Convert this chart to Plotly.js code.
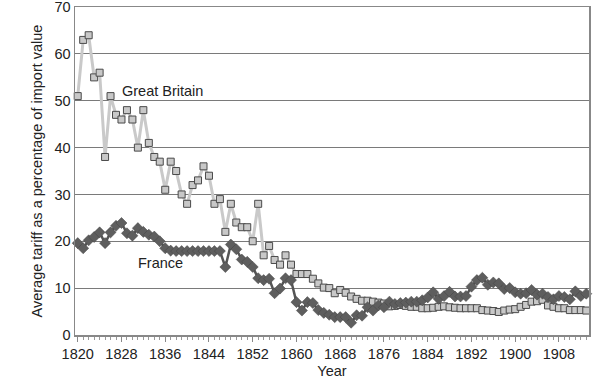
<!DOCTYPE html>
<html>
<head>
<meta charset="utf-8">
<script src="https://cdn.plot.ly/plotly-3.0.1.min.js"></script>
<style>html,body{margin:0;padding:0;background:#fff;}#chart{width:600px;height:379px;}</style>
</head>
<body>
<div id="chart"></div>
<script>
// Years 1820..1913
var years = [];
for (var y = 1820; y <= 1913; y++) years.push(y);

var britain = [
  51, 63, 64, 55, 56, 38, 51, 47, 46, 48,   // 1820-1829
  46, 40, 48, 41, 38, 37, 31, 37, 35, 30,   // 1830-1839
  28, 32, 33, 36, 34, 28, 29, 22, 28, 24,   // 1840-1849
  23, 23, 20, 28, 17, 19, 16, 15, 17, 15,   // 1850-1859
  13, 13, 13, 12, 11, 10.1, 10, 8.9, 9.6, 9,   // 1860-1869
  8.2, 7.7, 7.3, 7.3, 7.1, 6.9, 6.7, 6.1, 6.2, 6.4,   // 1870-1879
  6.2, 6, 6, 5.7, 5.7, 5.8, 6, 6.1, 5.9, 5.8,   // 1880-1889
  5.7, 5.7, 5.7, 5.7, 5.3, 5.2, 5.1, 4.9, 5.2, 5.4,   // 1890-1899
  5.5, 6, 6.4, 7.1, 7.2, 7.5, 6.3, 6, 5.7, 5.7,   // 1900-1909
  5.3, 5.3, 5.3, 5.2   // 1910-1913
];

var france = [
  19.6, 18.5, 20.2, 20.9, 21.9, 19.6, 21.9, 23.3, 23.9, 21.7,   // 1820-1829
  21.2, 22.8, 22, 21.4, 21, 20, 18.5, 18, 17.9, 17.9,   // 1830-1839
  17.9, 17.9, 17.9, 17.9, 17.9, 17.9, 17.9, 14.5, 19.3, 18.3,   // 1840-1849
  16.1, 15.6, 14.5, 12.1, 11.7, 12, 8.9, 9.9, 12.1, 11.7,   // 1850-1859
  7, 5.2, 7, 6.8, 5.3, 4.7, 4.3, 3.8, 3.8, 3.8,   // 1860-1869
  2.6, 4.2, 4.1, 5.9, 5.2, 6.3, 5.9, 7.1, 6.6, 6.8,   // 1870-1879
  6.9, 7.1, 7.1, 7.4, 8, 9.1, 7.7, 8.3, 9.2, 8.2,   // 1880-1889
  8.2, 8.3, 10.3, 11.7, 12.2, 10.7, 11.2, 11, 9.8, 10,   // 1890-1899
  9.1, 8.8, 8.9, 9.6, 8.6, 8.8, 8.1, 7.6, 8.3, 8.1,   // 1900-1909
  7.6, 9.3, 8.3, 8.8   // 1910-1913
];

var yTicks = [0, 10, 20, 30, 40, 50, 60, 70];
var xTicks = [1820, 1828, 1836, 1844, 1852, 1860, 1868, 1876, 1884, 1892, 1900, 1908];

var traces = [
  {
    x: years, y: britain, type: 'scatter', mode: 'lines+markers', name: 'Great Britain',
    line: {color: '#c9c9c9', width: 3},
    marker: {symbol: 'square', size: 7, color: '#c8c8c8', line: {color: '#4a4a4a', width: 1}},
    cliponaxis: false
  },
  {
    x: years, y: france, type: 'scatter', mode: 'lines+markers', name: 'France',
    line: {color: '#555555', width: 2.5},
    marker: {symbol: 'diamond', size: 8.5, color: '#5e5e5e', line: {color: '#444444', width: 0.5}},
    cliponaxis: false
  }
];

var fontFam = 'Liberation Sans, Arial, Helvetica, sans-serif';

var layout = {
  width: 600, height: 379,
  margin: {l: 75, r: 11, t: 7, b: 44},
  paper_bgcolor: '#ffffff', plot_bgcolor: '#ffffff',
  showlegend: false,
  font: {family: fontFam, size: 14.5, color: '#222'},
  xaxis: {
    range: [1819.5, 1913.5],
    tickmode: 'array', tickvals: xTicks, ticktext: xTicks.map(String),
    ticks: 'outside', ticklen: 5, tickcolor: '#888', tickwidth: 1,
    minor: {dtick: 1, tick0: 1820, ticks: 'outside', ticklen: 3, tickcolor: '#999', showgrid: false},
    showgrid: false, zeroline: false,
    showline: true, linecolor: '#888', linewidth: 1.5, mirror: true,
    tickfont: {size: 14.5, family: fontFam, color: '#222'},
    title: {text: 'Year', font: {size: 14.5, family: fontFam, color: '#222'}, standoff: 6}
  },
  yaxis: {
    range: [-0.02, 70.03],
    tickmode: 'array', tickvals: yTicks, ticktext: yTicks.map(String),
    ticklabeloverflow: 'allow',
    ticks: '', showgrid: true, gridcolor: '#7a7a7a', gridwidth: 1,
    zeroline: false,
    showline: true, linecolor: '#888', linewidth: 1.5, mirror: true,
    tickfont: {size: 14.5, family: fontFam, color: '#222'},
    title: {text: 'Average tariff as a percentage of import value', font: {size: 14.5, family: fontFam, color: '#222'}, standoff: 8}
  },
  annotations: [
    {x: 1835.5, y: 52, xref: 'x', yref: 'y', text: 'Great Britain', showarrow: false,
     font: {size: 14.5, family: fontFam, color: '#222'}},
    {x: 1835.2, y: 15.3, xref: 'x', yref: 'y', text: 'France', showarrow: false,
     font: {size: 14.5, family: fontFam, color: '#222'}}
  ]
};

Plotly.newPlot('chart', traces, layout, {displayModeBar: false, staticPlot: true});
</script>
</body>
</html>
